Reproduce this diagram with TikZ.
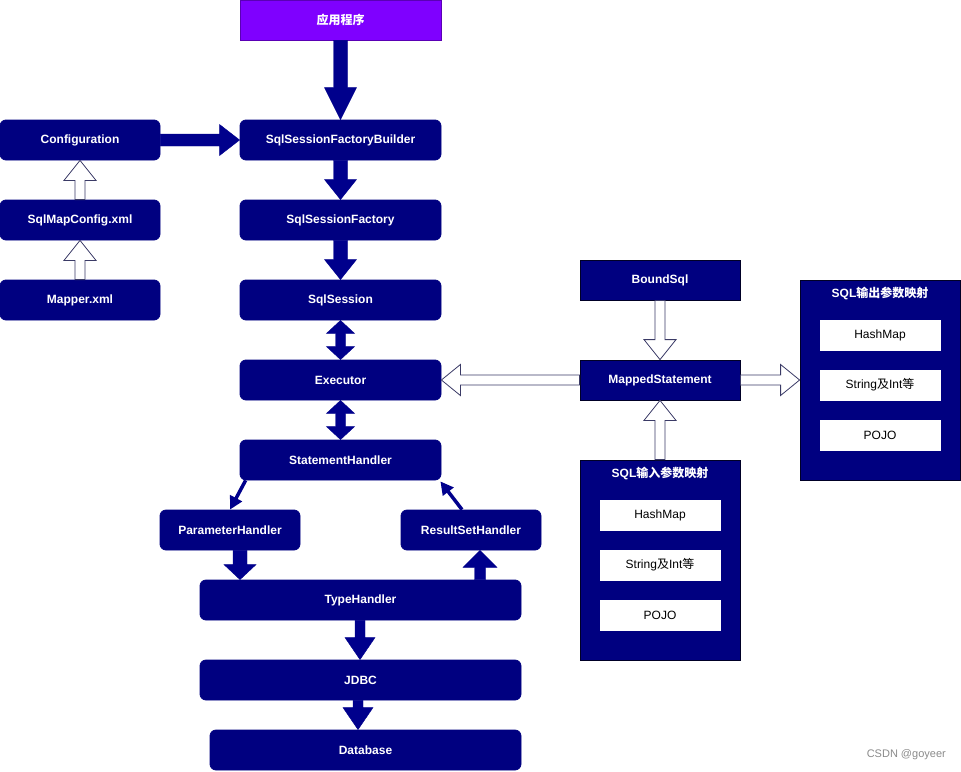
\documentclass[tikz,border=0pt]{standalone}
\usepackage{fontspec}
\setmainfont{Liberation Sans}
\newfontfamily\cjk{Noto Sans CJK SC}
\usetikzlibrary{calc,arrows.meta}
\definecolor{boxnavy}{HTML}{000080}
\definecolor{arrnavy}{HTML}{00008C}
\definecolor{appviolet}{HTML}{7F00FF}
\definecolor{appborder}{HTML}{5A00B5}
\definecolor{hollowline}{HTML}{3A3A66}
\definecolor{wmgray}{HTML}{8A8A8A}
% vertical block arrow: style, x-ref, from, to(tip), shaft half, head half, head offset
\newcommand\varr[7]{\path[#1] ($(#2|-#3)+(-#5,0)$) -- ($(#2|-#4)+(-#5,#7)$) -- ($(#2|-#4)+(-#6,#7)$) -- (#2|-#4) -- ($(#2|-#4)+(#6,#7)$) -- ($(#2|-#4)+(#5,#7)$) -- ($(#2|-#3)+(#5,0)$) -- cycle;}
% horizontal block arrow: style, y-ref, from, to(tip), shaft half, head half, head offset
\newcommand\harr[7]{\path[#1] ($(#2-|#3)+(0,-#5)$) -- ($(#2-|#4)+(#7,-#5)$) -- ($(#2-|#4)+(#7,-#6)$) -- (#2-|#4) -- ($(#2-|#4)+(#7,#6)$) -- ($(#2-|#4)+(#7,#5)$) -- ($(#2-|#3)+(0,#5)$) -- cycle;}
% double vertical block arrow: style, x-ref, top tip, bottom tip, shaft half, head half, head length
\newcommand\dvarr[7]{\path[#1] (#2|-#3) -- ($(#2|-#3)+(#6,#7)$) -- ($(#2|-#3)+(#5,#7)$) -- ($(#2|-#4)+(#5,-#7)$) -- ($(#2|-#4)+(#6,-#7)$) -- (#2|-#4) -- ($(#2|-#4)+(-#6,-#7)$) -- ($(#2|-#4)+(-#5,-#7)$) -- ($(#2|-#3)+(-#5,#7)$) -- ($(#2|-#3)+(-#6,#7)$) -- cycle;}
\begin{document}
\begin{tikzpicture}[x=1pt,y=-1pt,
  rbox/.style={rectangle, rounded corners=6pt, fill=boxnavy, draw=boxnavy, line width=0.8pt, text=white, inner sep=0pt, font=\bfseries\fontsize{12pt}{14pt}\selectfont},
  sbox/.style={rectangle, fill=boxnavy, draw=black!70!boxnavy, line width=0.8pt, text=white, inner sep=0pt, font=\bfseries\fontsize{12pt}{14pt}\selectfont},
  wbox/.style={rectangle, fill=white, draw=white, text=black, inner sep=0pt, minimum width=120pt, minimum height=30pt, font=\fontsize{12pt}{14pt}\selectfont},
  grptitle/.style={text=white, inner sep=0pt, font=\bfseries\fontsize{12pt}{14pt}\selectfont},
  solidarr/.style={fill=arrnavy, draw=arrnavy, line width=0.4pt},
  hollowarr/.style={fill=white, draw=hollowline, line width=0.8pt},
  thinarr/.style={draw=arrnavy, line width=3.5pt, -{Triangle[width=13pt,length=13pt]}}
]
\useasboundingbox (0,0) rectangle (961,771);
% main column
\node[rbox, rounded corners=0pt, fill=appviolet, draw=appborder, minimum width=201pt, minimum height=40pt] (app) at (340.5,20) {\cjk\bfseries 应用程序};
\node[rbox, minimum width=201pt, minimum height=40pt] (sfb) at (340.5,140) {SqlSessionFactoryBuilder};
\node[rbox, minimum width=201pt, minimum height=40pt] (ssf) at (340.5,220) {SqlSessionFactory};
\node[rbox, minimum width=201pt, minimum height=40pt] (ss) at (340.5,300) {SqlSession};
\node[rbox, minimum width=201pt, minimum height=40pt] (exe) at (340.5,380) {Executor};
\node[rbox, minimum width=201pt, minimum height=40pt] (sh) at (340.5,460) {StatementHandler};
% left column
\node[rbox, minimum width=160pt, minimum height=40pt] (conf) at (80,140) {Configuration};
\node[rbox, minimum width=160pt, minimum height=40pt] (smc) at (80,220) {SqlMapConfig.xml};
\node[rbox, minimum width=160pt, minimum height=40pt] (mx) at (80,300) {Mapper.xml};
% handlers
\node[rbox, minimum width=140pt, minimum height=40pt] (ph) at (230,530) {ParameterHandler};
\node[rbox, minimum width=140pt, minimum height=40pt] (rsh) at (471,530) {ResultSetHandler};
\node[rbox, minimum width=321pt, minimum height=40pt] (th) at (360.5,600) {TypeHandler};
\node[rbox, minimum width=321pt, minimum height=40pt] (jdbc) at (360.5,680) {JDBC};
\node[rbox, minimum width=311pt, minimum height=40pt] (db) at (365.5,750) {Database};
% right part
\node[sbox, minimum width=160pt, minimum height=40pt] (bsql) at (660,280) {BoundSql};
\node[sbox, minimum width=160pt, minimum height=40pt] (ms) at (660,380) {MappedStatement};
\node[sbox, minimum width=160pt, minimum height=200pt] (inbox) at (660,560) {};
\node[grptitle] (intitle) at (660,473) {SQL{\cjk\bfseries 输入参数映射}};
\node[wbox] (in1) at (660,515) {HashMap};
\node[wbox] (in2) at (660,565) {String{\cjk 及}Int{\cjk 等}};
\node[wbox] (in3) at (660,615) {POJO};
\node[sbox, minimum width=160pt, minimum height=200pt] (outbox) at (880,380) {};
\node[grptitle] (outtitle) at (880,293) {SQL{\cjk\bfseries 输出参数映射}};
\node[wbox] (out1) at (880,335) {HashMap};
\node[wbox] (out2) at (880,385) {String{\cjk 及}Int{\cjk 等}};
\node[wbox] (out3) at (880,435) {POJO};
% reference coordinates
\coordinate (xph) at (240,0);
\coordinate (xrsh) at (480,0);
\coordinate (xth) at (360,0);
\coordinate (xdb) at (358,0);
% solid block arrows
\varr{solidarr}{app.south}{app.south}{sfb.north}{7}{16}{-32}
\varr{solidarr}{sfb.south}{sfb.south}{ssf.north}{7}{16}{-20}
\varr{solidarr}{ssf.south}{ssf.south}{ss.north}{7}{16}{-20}
\dvarr{solidarr}{ss.south}{ss.south}{exe.north}{5}{14}{13}
\dvarr{solidarr}{exe.south}{exe.south}{sh.north}{5}{14}{13}
\harr{solidarr}{conf.east}{conf.east}{sfb.west}{6}{15.5}{-20}
\varr{solidarr}{xph}{ph.south}{th.north}{7}{16}{-15}
\varr{solidarr}{xrsh}{th.north}{rsh.south}{5.5}{17}{17}
\varr{solidarr}{xth}{th.south}{jdbc.north}{5}{15}{-22}
\varr{solidarr}{xdb}{jdbc.south}{db.north}{5}{15}{-22}
% thin arrows
\draw[thinarr] ($(sh.south west)+(6,0)$) -- (ph.north);
\draw[thinarr] ($(rsh.north)+(-9,0)$) -- ($(sh.south east)+(-1,1)$);
% hollow arrows
\varr{hollowarr}{smc.north}{smc.north}{conf.south}{5}{16}{20}
\varr{hollowarr}{mx.north}{mx.north}{smc.south}{5}{16}{20}
\varr{hollowarr}{bsql.south}{bsql.south}{ms.north}{5}{16}{-20}
\varr{hollowarr}{inbox.north}{inbox.north}{ms.south}{5}{16}{20}
\harr{hollowarr}{ms.west}{ms.west}{exe.east}{5}{15.5}{19}
\harr{hollowarr}{ms.east}{ms.east}{outbox.west}{5}{15.5}{-19}
% watermark
\node[anchor=east, text=wmgray, inner sep=0pt, font=\fontsize{11pt}{13pt}\selectfont] (wm) at (946,755) {CSDN @goyeer};
\end{tikzpicture}
\end{document}
